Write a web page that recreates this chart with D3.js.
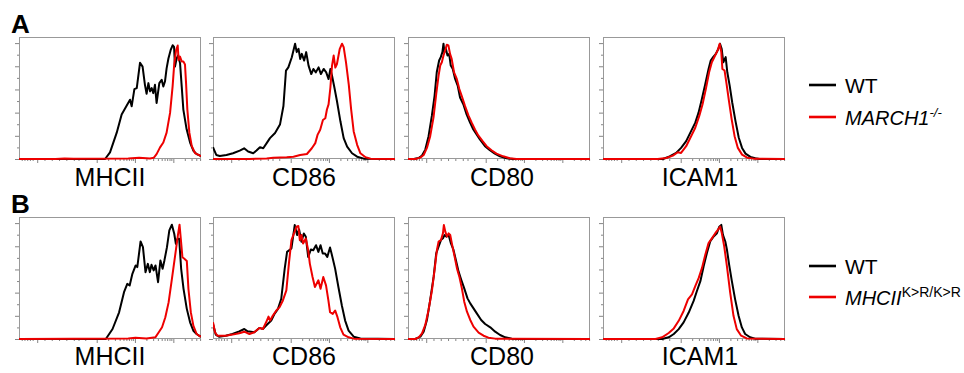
<!DOCTYPE html>
<html>
<head>
<meta charset="utf-8">
<script src="https://cdn.jsdelivr.net/npm/d3@7"></script>
<style>
  html, body { margin: 0; padding: 0; background: #fff; }
  svg { display: block; font-family: "Liberation Sans", Arial, sans-serif; }
</style>
</head>
<body>
<svg id="chart" width="964" height="373"></svg>
<script>
// ---------- DATA (x: % of axis width on log/biex scale, y: % of frame height) ----------
const markers = ["MHCII", "CD86", "CD80", "ICAM1"];
const rows = ["A", "B"];
const legendA = ["WT", "MARCH1", "-/-"];
const legendB = ["WT", "MHCII", "K>R/K>R"];

// Panel A
const A_MHCII_WT = [[0,0],[47.3,0],[50,5.4],[53.7,21.6],[56.4,36.5],[59.2,43.8],[61,48.6],[61.9,43.2],[63.4,57.3],[64.7,58.1],[66.5,78.9],[67.9,75.7],[69.2,60.8],[70.1,53.5],[71.1,62.2],[72,55.4],[72.9,58.1],[73.8,54],[74.7,60.8],[75.6,45.9],[77.1,62.2],[78.4,64.9],[79.3,59.5],[80.2,63.5],[81.1,74.3],[82.1,82.4],[83.3,89.2],[84.4,93.2],[85.2,91.9],[85.7,75.7],[86.6,82.4],[87.5,85.1],[88.5,78.4],[89.4,59.5],[90.3,40.5],[92.1,24.3],[94,13.5],[95.8,6.8],[97.6,4],[99.5,2.7],[100,2.5]];
const A_MHCII_KO = [[0,0],[20,0],[25,0.5],[30,0.3],[60,0.5],[66,1],[72,0.5],[74,1],[75.6,4],[77.5,9.5],[79.3,13.5],[81.1,21.6],[83,37.8],[84.4,59.5],[85.3,78],[86.3,89],[87.2,93],[87.7,81],[88.5,83.8],[89.4,80],[90.3,80],[91.2,77.5],[91.8,62],[92.5,40.5],[93.6,21.6],[94.9,10.8],[96.7,4.9],[99.5,2.7],[100,2.5]];
const A_CD86_WT = [[0,9.7],[0.6,7.5],[1.8,3.3],[3.7,2.5],[7.4,3.3],[11,4.7],[14.7,6.9],[17.1,8.8],[19.3,6.1],[22.1,4.7],[23.9,6.9],[25.8,9.7],[27.6,8.8],[29.5,13],[31.3,17.1],[34.1,21.3],[36.8,28.2],[38.7,43.4],[40.1,72.4],[41.4,75.1],[43.3,83.4],[45.1,94.5],[46,87.6],[47,90.3],[47.9,82],[48.8,86.2],[50.1,80.7],[51.2,87.6],[52.5,76.5],[54,69.6],[55.2,73.8],[56.5,71],[58,75.1],[59.3,69.6],[60.8,73.8],[62.2,71],[63.5,65.5],[64.5,73.8],[65.4,68.2],[66.7,58.6],[68.1,47.5],[70,30.9],[71.8,17.1],[73.7,10.2],[76.4,4.7],[79.2,1.9],[82.9,0.3],[100,0]];
const A_CD86_KO = [[0,0],[20,0],[29.5,0.5],[33.1,1.1],[40.5,1.4],[44.2,1.9],[47.9,3.3],[51.6,4.1],[54.3,8.8],[56.2,13],[57.5,20],[58.9,24],[60.4,32],[61.7,33.4],[62.6,40.6],[63.5,44.8],[64.5,58.6],[65.4,76.5],[66.3,84.8],[67.2,75],[68.1,77.9],[69.6,90],[70.9,94.5],[71.8,91.7],[73.1,79],[74.6,61],[75.9,40.6],[77.3,22.6],[79.2,11.6],[81,4.7],[83.8,1.4],[86.6,0.3],[100,0]];
const A_CD80_WT = [[0,0],[3.1,0],[5.8,0.8],[7.7,2.8],[9.5,7.7],[11.3,18.7],[13.1,35.3],[14.6,51.8],[15.8,71.1],[17.1,80.7],[18,83.5],[18.9,87.6],[19.5,94.5],[20,87.6],[20.8,90.4],[21.7,84.8],[22.6,86.2],[23.5,76.6],[24.6,73.8],[25.9,65.6],[27.3,60.1],[28.6,50.4],[30.4,44.9],[32.2,36.6],[34.1,29.8],[35.9,24.2],[37.7,20.1],[39.5,16],[42.3,10.5],[45,7.2],[47.7,4.4],[50.5,2.2],[54.1,0.6],[57.7,0],[100,0]];
const A_CD80_KO = [[0,0],[4,0],[6.7,1.1],[8.6,3.3],[10.4,9.1],[12.2,18.7],[14,33.9],[15.5,53.2],[16.8,68.3],[17.7,76.6],[18.6,79.3],[19.5,84.8],[20.4,89],[21.3,93.7],[22.2,93.1],[23.1,86.2],[24,82.1],[25.3,71.1],[26.8,65.6],[28.2,57.3],[29.5,51.8],[31.3,43.5],[33.2,35.8],[35,29.8],[36.8,24.2],[38.6,19.3],[41,14.6],[43.2,10.5],[45.9,7.2],[48.6,4.4],[52.3,2.2],[55.9,0.6],[59.6,0],[100,0]];
const A_ICAM1_WT = [[0,0],[33,0],[36.6,2.2],[40.2,5],[42.9,9.1],[45.7,14.6],[48.4,22.9],[50.7,29.8],[52.5,38],[54.3,49],[56.2,61.4],[58,73.8],[59.2,80.7],[60.5,83.5],[62,86.2],[63.4,90.4],[64.3,94.5],[65.2,90.4],[66.1,79.3],[67.4,83.5],[68.3,71.1],[69.6,60.1],[71,46.3],[72.8,31.1],[74.6,17.4],[76.4,9.1],[78.3,4.4],[81,1.7],[83.7,0.6],[86,0],[100,0]];
const A_ICAM1_KO = [[0,0],[30,0],[34.8,0.8],[38.4,2.8],[41.1,5.5],[42.9,5],[45.7,10.5],[48.4,18.7],[50.7,25.6],[52.9,35.3],[54.7,44.9],[56.5,57.3],[58.3,71.1],[59.8,79.3],[61.6,84.8],[63,89],[64.1,94.5],[65,87.6],[65.6,73.8],[66.8,72.5],[67.9,61.4],[69.2,47.7],[70.7,32.5],[72.3,18.7],[74.1,9.1],[76.4,3.6],[79.2,1.1],[82.8,0.3],[100,0]];

// Panel B
const B_MHCII_WT = [[0,0],[47.7,0],[51.4,8.2],[55,21.9],[57.7,38.4],[59.5,45.2],[60.8,43.8],[62.3,53.4],[64.1,60.3],[65,58.9],[66.8,80],[68.1,75.3],[69.5,54.8],[70.8,61.6],[71.9,54.8],[72.8,60.8],[74,56.2],[75,60.3],[76.4,46.6],[77.7,64.4],[78.9,57.5],[79.9,64.4],[81.3,75.3],[82.6,89],[84,93.7],[85.3,86.3],[86.2,78.1],[87.1,82.2],[88,82.2],[89.1,57.5],[90.4,41.1],[92.2,24.7],[94,13.7],[95.8,6.8],[97.6,4.1],[99.5,2.2],[100,2]];
const B_MHCII_KR = [[0,0],[60,0.5],[64,1],[70,0.5],[75,1.5],[76.8,5.5],[78.6,9.6],[80.4,17.8],[82.2,30],[84,49],[85.8,68.5],[87.3,85],[88.2,93.7],[88.9,82],[89.8,67],[90.7,66],[92.2,64],[93.1,41],[94.4,22],[95.8,11],[97.6,4.1],[99.5,2.2],[100,2]];
const B_CD86_WT = [[0,12.4],[1.5,3.6],[3.3,1.9],[7,2.7],[10.7,4.1],[14.4,6.3],[17.2,8.2],[19,6.3],[22.7,5.5],[25.5,9.1],[27.4,8.2],[29.2,11],[32,15.1],[33.8,20.6],[35.7,24.7],[37.5,33],[39.4,57.7],[40.7,71.4],[43.1,74.2],[44.9,93.4],[46.2,85.2],[47.3,89.8],[48.6,79.7],[49.9,86.5],[51,83.8],[52.3,67.3],[53.8,73.4],[55.1,72.8],[56.6,76.9],[57.9,71.4],[59.1,76.9],[60.3,70],[61.6,70],[62.8,67.3],[64.3,75],[65.6,67.3],[67.1,57.7],[68.9,42.6],[70.8,27.5],[72.6,15.1],[74.5,6.9],[77.3,1.9],[81,0.5],[100,0]];
const B_CD86_KR = [[0,13.7],[1.1,5.5],[2.4,2.7],[7,2.7],[10.7,3.6],[14.4,4.7],[17.2,6],[20,4.1],[22.7,5.5],[25.5,9.1],[27.4,8.2],[29.2,13.7],[30.5,18.4],[31.4,15.1],[32.9,19.2],[34.8,23.4],[36.6,26.1],[38.4,31.6],[40.3,39.8],[41.8,63.2],[43.1,81],[44.5,86.5],[45.8,92],[46.9,92.6],[47.7,81],[48.6,85.2],[49.5,78.3],[51,82.4],[52.3,72.8],[53.2,61.8],[54.7,50.8],[56,42.6],[57.9,48.1],[59.1,41.2],[60.6,50.8],[62.1,44],[63.4,31.6],[64.3,22],[65.8,20.6],[67.1,23.4],[68.4,17.9],[69.9,9.6],[71.7,3.6],[74.5,1.4],[77.3,0.3],[100,0]];
const B_CD80_WT = [[0,0],[4,0],[6.8,1.9],[8.6,6],[10.4,15.6],[12.2,32],[14.1,51.1],[15.5,70.2],[16.8,75.7],[18.1,81.1],[19.2,82.5],[20.1,85.2],[21,83.9],[22.3,85.2],[23.6,78.4],[25,73],[26.3,64.8],[27.8,55.2],[29.3,48.4],[30.9,41.5],[32.7,33.3],[34.2,29.2],[36,25.1],[37.8,21],[40.2,15.6],[42.4,12.3],[45.2,9.6],[47.9,6],[50.6,3.3],[53.4,1.4],[57,0.3],[60,0],[100,0]];
const B_CD80_KR = [[0,0],[4,0],[5.9,1.4],[7.7,4.6],[9.5,11.5],[11.3,23.8],[13.2,40.2],[14.6,56.6],[15.9,73],[16.8,79.8],[18.1,81.1],[19.2,86.6],[19.7,93.4],[20.5,88],[21.4,83.9],[22.3,86.6],[23.2,85.2],[24.1,78.4],[25.6,67.5],[26.9,57.9],[28.2,51.1],[29.6,41.5],[30.9,30.6],[32.4,22.4],[34.2,15.6],[36,10.1],[38.8,5.2],[41.5,2.7],[44.2,1.1],[47.9,0.3],[100,0]];
const B_ICAM1_WT = [[0,0],[32.5,0],[36.1,1.4],[38.9,4.1],[41.6,8.1],[44.3,13.6],[47.1,21.7],[49.8,31.2],[51.6,39.3],[53.5,47.4],[55.3,59.6],[57.1,70.5],[58.9,79.9],[60.8,84],[62.6,86.7],[63.9,92.1],[65,93.5],[65.9,85.4],[67.2,79.9],[68.1,73.2],[69.3,61],[70.8,47.4],[72.6,32.5],[74.5,19],[76.3,9.5],[78.1,4.1],[80.8,1.4],[83.6,0.3],[100,0]];
const B_ICAM1_KR = [[0,0],[28.8,0],[32.5,1.4],[36.1,4.9],[38.9,8.7],[41.6,14.9],[44.3,23],[46.7,32.5],[48.9,36.6],[50.7,43.4],[52.6,50.1],[54.4,58.3],[56.2,69.1],[58,78.6],[59.9,82.7],[61.7,86.7],[63.1,89.4],[64.4,92.1],[65.3,86.7],[66.6,75.9],[68.1,59.6],[69.9,37.9],[71.7,19],[73.5,8.1],[75.9,2.7],[79,0.5],[100,0]];

// Axis ticks (no labels in the original)
const xMajorTicks = [10, 42.7, 63.7, 84.8];
const xMinorTicks = [1.5, 3, 4.5, 6, 7.5, 14, 18, 22, 26, 30.1, 32.7, 36.4, 49, 52.7, 55.3, 57.4, 59, 60.4, 61.7, 62.7, 70, 73.7, 76.3, 78.4, 80, 81.4, 82.7, 83.7, 91.1, 94.8, 97.4, 99.5];
const yMajorTicks = [0, 19, 38, 57, 76, 95];
const yMinorTicks = [9.5, 28.5, 47.5, 66.5, 85.5];

// ---------- LAYOUT ----------
const panelLefts = [19, 213, 408, 603];
const panelW = 182, panelH = 122;
const rowTops = [37, 217];
const labelDx = [0, 0, 3, 6];
const BLACK = "#000", RED = "#ee0000";

const seriesByRow = [
  [[A_MHCII_WT, A_MHCII_KO], [A_CD86_WT, A_CD86_KO], [A_CD80_WT, A_CD80_KO], [A_ICAM1_WT, A_ICAM1_KO]],
  [[B_MHCII_WT, B_MHCII_KR], [B_CD86_WT, B_CD86_KR], [B_CD80_WT, B_CD80_KR], [B_ICAM1_WT, B_ICAM1_KR]]
];

const svg = d3.select("#chart");
svg.append("rect").attr("width", 964).attr("height", 373).attr("fill", "#fff");

const defs = svg.append("defs");

rows.forEach((rowName, r) => {
  const top = rowTops[r];
  svg.append("text").text(rowName)
    .attr("x", 11).attr("y", top - 4)
    .attr("font-size", 26).attr("font-weight", "bold").attr("fill", "#000");

  markers.forEach((m, c) => {
    const left = panelLefts[c];
    const x = d3.scaleLinear().domain([0, 100]).range([0, panelW]);
    const y = d3.scaleLinear().domain([0, 100]).range([panelH, 0]);
    const g = svg.append("g").attr("transform", `translate(${left},${top})`);

    const clipId = `clip-${r}-${c}`;
    defs.append("clipPath").attr("id", clipId)
      .append("rect").attr("x", 0).attr("y", -2).attr("width", panelW).attr("height", panelH + 3);

    // ticks: bottom (outward) and left (outward)
    const xAxisMajor = d3.axisBottom(x).tickValues(xMajorTicks).tickSize(4).tickFormat("");
    const xAxisMinor = d3.axisBottom(x).tickValues(xMinorTicks).tickSize(2).tickFormat("");
    const yAxisMajor = d3.axisLeft(y).tickValues(yMajorTicks).tickSize(4).tickFormat("");
    const yAxisMinor = d3.axisLeft(y).tickValues(yMinorTicks).tickSize(2).tickFormat("");
    [[xAxisMajor, `translate(0,${panelH})`], [xAxisMinor, `translate(0,${panelH})`],
     [yAxisMajor, null], [yAxisMinor, null]].forEach(([ax, tr]) => {
      const a = g.append("g").call(ax);
      if (tr) a.attr("transform", tr);
      a.select(".domain").remove();
      a.selectAll("line").attr("stroke", "#666").attr("stroke-width", 0.8);
    });

    // frame
    g.append("rect").attr("x", 0.5).attr("y", 0.5)
      .attr("width", panelW - 1).attr("height", panelH - 1)
      .attr("fill", "none").attr("stroke", "#999").attr("stroke-width", 1);

    const line = d3.line().x(d => x(d[0])).y(d => y(d[1])).curve(d3.curveLinear);
    const [wt, mut] = seriesByRow[r][c];
    const cg = g.append("g").attr("clip-path", `url(#${clipId})`);
    cg.append("path").datum(wt).attr("d", line)
      .attr("fill", "none").attr("stroke", BLACK).attr("stroke-width", 2).attr("stroke-linejoin", "round");
    cg.append("path").datum(mut).attr("d", line)
      .attr("fill", "none").attr("stroke", RED).attr("stroke-width", 2).attr("stroke-linejoin", "round");

    // marker label
    svg.append("text").text(m)
      .attr("x", left + panelW / 2 + labelDx[c]).attr("y", top + panelH + 27 - r)
      .attr("text-anchor", "middle").attr("font-size", 25).attr("fill", "#000");
  });
});

// ---------- LEGENDS ----------
function legend(items, y1, y2, supSize, supItalic) {
  svg.append("line").attr("x1", 809).attr("x2", 836).attr("y1", y1).attr("y2", y1)
    .attr("stroke", BLACK).attr("stroke-width", 2.6);
  svg.append("text").text(items[0]).attr("x", 845).attr("y", y1 + 8)
    .attr("font-size", 21).attr("fill", "#000");
  svg.append("line").attr("x1", 809).attr("x2", 836).attr("y1", y2).attr("y2", y2)
    .attr("stroke", RED).attr("stroke-width", 2.6);
  const t = svg.append("text").attr("x", 845).attr("y", y2 + 8)
    .attr("font-size", 20).attr("fill", "#000");
  t.append("tspan").text(items[1]).attr("font-style", "italic");
  t.append("tspan").text(items[2]).attr("font-size", supSize).attr("dy", -8)
    .attr("font-style", supItalic ? "italic" : "normal");
}
legend(legendA, 85, 117, 13, true);
legend(legendB, 266, 297, 14, false);
</script>
</body>
</html>
